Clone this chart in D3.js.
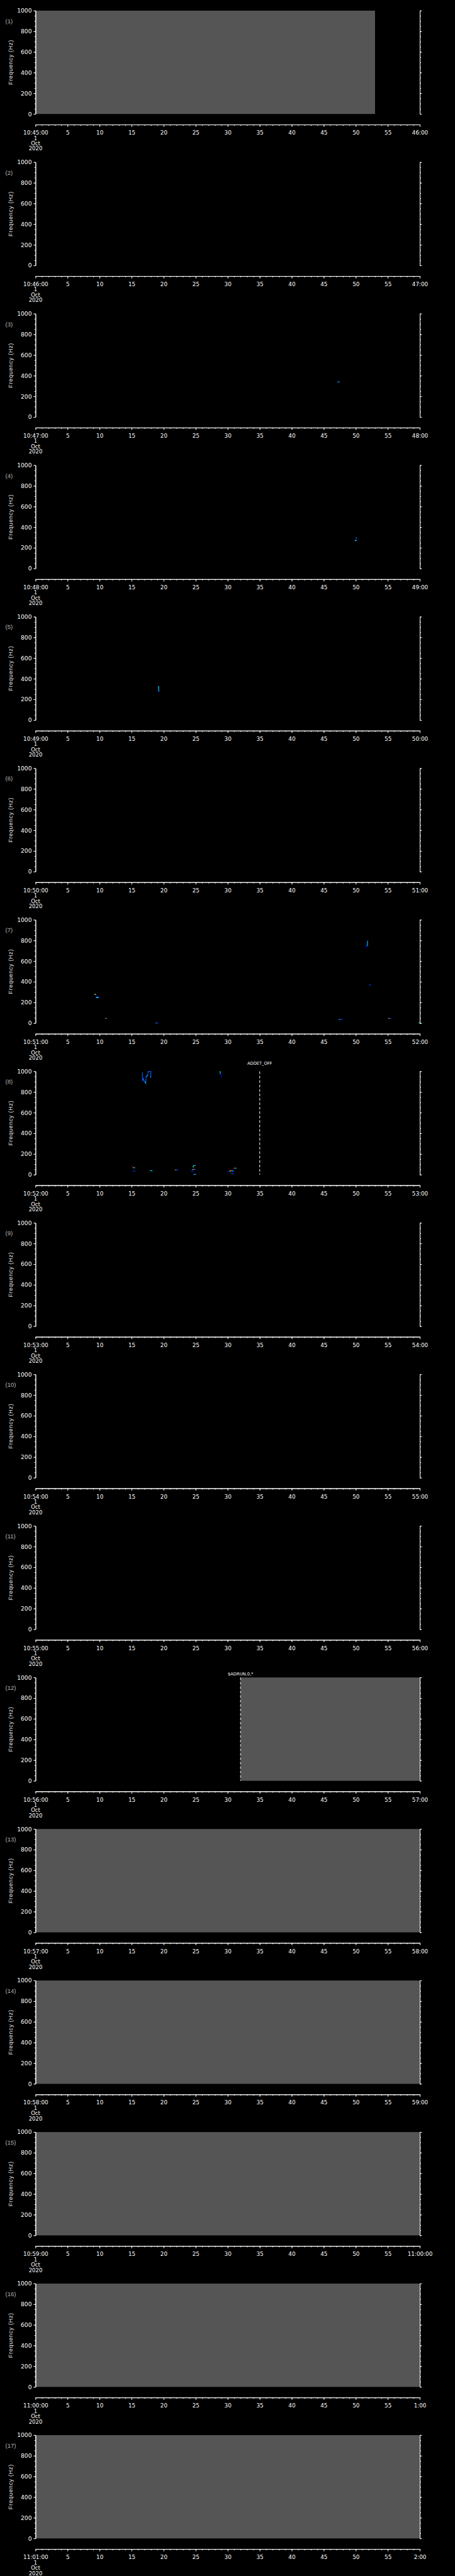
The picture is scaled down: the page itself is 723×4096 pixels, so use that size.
<!DOCTYPE html>
<html>
<head>
<meta charset="utf-8">
<script src="https://cdn.jsdelivr.net/npm/d3@7"></script>
<style>
  html, body { margin: 0; padding: 0; background: #000; }
  svg { display: block; }
</style>
</head>
<body>
<div id="chart"></div>
<script>
// one panel per minute, 1 Oct 2020
const panelStarts = ["10:45:00", "10:46:00", "10:47:00", "10:48:00", "10:49:00", "10:50:00",
  "10:51:00", "10:52:00", "10:53:00", "10:54:00", "10:55:00", "10:56:00", "10:57:00",
  "10:58:00", "10:59:00", "11:00:00", "11:01:00"];
const panelEnds = ["46:00", "47:00", "48:00", "49:00", "50:00", "51:00", "52:00", "53:00",
  "54:00", "55:00", "56:00", "57:00", "58:00", "59:00", "11:00:00", "1:00", "2:00"];
const dateLines = ["1", "Oct", "2020"];

// seconds tick values and frequency ticks
const secMajor = d3.range(0, 61, 5);
const secMinor = d3.range(0, 61, 1);
const freqMajor = [0, 200, 400, 600, 800, 1000];
const freqMinor = d3.range(0, 1001, 50);

// no-data (gray) spans: [panel, from s, to s]
const grayPanels = [1, 12, 13, 14, 15, 16, 17];
const grayFrom = [0, 32, 0, 0, 0, 0, 0];
const grayTo = [53, 60, 60, 60, 60, 60, 60];

// event markers
const eventPanels = [8, 12];
const eventSecs = [35, 32];
const eventLabels = ["ADDET_OFF", "$ADRUN,0,*"];

// spectral traces: panel, colour, [seconds, Hz] points
const tracePanels = [
  3, 3,
  4, 4, 4,
  5, 5,
  7, 7, 7, 7, 7, 7, 7, 7, 7, 7,
  7, 7, 7, 7, 7, 7, 7, 7, 7,
  8, 8, 8, 8, 8, 8, 8, 8, 8, 8,
  8, 8, 8, 8, 8, 8, 8, 8, 8, 8,
  8, 8, 8, 8, 8, 8, 8
];
const traceColors = [
  "#00e0ff", "#0050ff",
  "#0050ff", "#0050ff", "#60ffff",
  "#00e0ff", "#0030ff",
  "#b0ff40", "#0000ff", "#40ff90", "#00e0ff", "#0040ff", "#ffff00", "#0040ff", "#00e0ff", "#0040ff", "#00c0ff",
  "#0000ff", "#0040ff", "#0040ff", "#00e0ff", "#0040ff", "#ff8000", "#ffff00", "#0040ff", "#00e0ff",
  "#0060ff", "#00e0ff", "#00c0ff", "#0060ff", "#00e0ff", "#0000ff", "#ff0000", "#00e0ff", "#0040ff", "#00e0ff",
  "#ff9000", "#0040ff", "#40ff80", "#00c0ff", "#0000ff", "#ffc000", "#0040ff", "#0040ff", "#00c0ff", "#0040ff",
  "#ffff00", "#ff2000", "#00e0ff", "#0040ff", "#ff0000", "#00e0ff", "#0040ff"
];
const tracePoints = [
  [[47.2, 340], [47.35, 340]], [[47.35, 340], [47.5, 340]],
  [[50.06, 272], [50.06, 300], [50.13, 300]], [[50.0, 272], [50.06, 272]], [[49.9, 271], [50.0, 271]],
  [[19.15, 323], [19.22, 323], [19.22, 281]], [[19.22, 279], [19.4, 279]],
  [[9.22, 281], [9.38, 276]], [[9.46, 270], [9.46, 246]], [[9.5, 247], [9.72, 247]], [[9.65, 252], [9.8, 252]],
  [[9.8, 251], [9.95, 251]], [[10.95, 45], [11.05, 45]], [[11.05, 45], [11.15, 45]], [[18.8, 2], [18.9, 2]],
  [[18.9, 2], [19.1, 2]], [[51.82, 794], [51.82, 750], [51.7, 750]],
  [[51.68, 750], [51.6, 738], [51.55, 727]], [[51.8, 794], [51.9, 794]],
  [[52.1, 372], [52.2, 372], [52.25, 362]], [[47.4, 36], [47.5, 36]], [[47.5, 36], [47.9, 36]],
  [[55.1, 45], [55.2, 45]], [[55.2, 45], [55.26, 45]], [[55.26, 45], [55.5, 45]], [[59.85, 2], [60, 2]],
  [[16.67, 987], [16.72, 903], [16.81, 931], [17.0, 903], [17.11, 898], [17.2, 885], [17.25, 948],
    [17.39, 957], [17.53, 960], [17.57, 999], [17.99, 1000], [17.99, 940]],
  [[17.1, 895], [17.2, 886]], [[17.3, 952], [17.45, 958]], [[17.93, 955], [17.95, 940]],
  [[28.83, 1000], [28.83, 975]], [[28.9, 975], [29.1, 950]],
  [[15.1, 77], [15.25, 68]], [[15.3, 67], [15.5, 67]], [[15.2, 35], [15.5, 35]], [[17.9, 40], [18.2, 36]],
  [[21.8, 46], [21.95, 46]], [[21.95, 46], [22.2, 46]], [[24.62, 80], [24.62, 72]], [[24.62, 88], [24.95, 88]],
  [[24.5, 51], [24.5, 33]], [[24.55, 51], [24.8, 51]], [[24.8, 51], [25.0, 51]], [[24.35, 33], [24.5, 33]],
  [[24.7, 3], [25.0, 3]], [[30.0, 33], [30.4, 33]],
  [[30.35, 36], [30.5, 36]], [[30.45, 41], [30.65, 41]], [[30.7, 38], [30.9, 33]],
  [[30.85, 33], [31.0, 33]], [[30.95, 62], [31.1, 62]], [[31.1, 63], [31.3, 63]], [[30.6, 9], [30.9, 9]]
];

const W = 1024, H = 5802;
const nPanels = panelStarts.length;
const panelH = H / nPanels;
const left = 80, right = 945, plotH = 232.7, top0 = 24;
const ink = "#ffffff";

const svg = d3.select("#chart").append("svg")
  .attr("width", 723).attr("height", 4096)
  .attr("viewBox", `0 0 ${W} ${H}`)
  .style("background", "#000");

const x = d3.scaleLinear().domain([0, 60]).range([left, right]);

function styleAxis(g) {
  g.selectAll("path, line").attr("stroke", ink).attr("stroke-width", 1.4);
  g.selectAll("text").attr("fill", ink)
    .style("font-family", "'DejaVu Sans', sans-serif").style("font-size", "12.5px");
}

panelStarts.forEach((start, i) => {
  const n = i + 1;
  const T = top0 + i * panelH;
  const y = d3.scaleLinear().domain([0, 1000]).range([T + plotH, T]);
  const g = svg.append("g");

  // gray no-data fill
  grayPanels.forEach((p, k) => {
    if (p !== n) return;
    g.append("rect")
      .attr("x", x(grayFrom[k])).attr("y", y(1000))
      .attr("width", x(grayTo[k]) - x(grayFrom[k]))
      .attr("height", y(0) - y(1000))
      .attr("fill", "#555555");
  });

  // spectral traces
  const line = d3.line().x(d => x(d[0])).y(d => y(d[1]));
  tracePanels.forEach((p, k) => {
    if (p !== n || !tracePoints[k]) return;
    g.append("path").attr("d", line(tracePoints[k]))
      .attr("fill", "none").attr("stroke", traceColors[k] || "#0040ff")
      .attr("stroke-width", 1.6).attr("stroke-linecap", "square");
  });

  // events
  eventPanels.forEach((p, k) => {
    if (p !== n) return;
    g.append("line")
      .attr("x1", x(eventSecs[k])).attr("x2", x(eventSecs[k]))
      .attr("y1", y(1000)).attr("y2", y(0))
      .attr("stroke", ink).attr("stroke-width", 1.4)
      .attr("stroke-dasharray", "6,4");
    const lift = n === 8 ? 15 : 5;
    g.append("text")
      .attr("x", x(eventSecs[k])).attr("y", y(1000) - lift)
      .attr("text-anchor", "middle").attr("fill", ink)
      .style("font-family", "'DejaVu Sans', sans-serif").style("font-size", "9.5px")
      .text(eventLabels[k]);
  });

  // frequency axes, left and right
  g.append("g").attr("transform", `translate(${left},0)`)
    .call(d3.axisLeft(y).tickValues(freqMinor).tickSize(2.6).tickSizeOuter(0).tickFormat(""))
    .call(styleAxis);
  g.append("g").attr("transform", `translate(${left},0)`)
    .call(d3.axisLeft(y).tickValues(freqMajor).tickSize(4.5).tickSizeOuter(0).tickPadding(4)
      .tickFormat(d3.format("d")))
    .call(styleAxis)
    .selectAll("text").style("font-size", "13px");
  g.append("g").attr("transform", `translate(${right},0)`)
    .call(d3.axisRight(y).tickValues(freqMinor).tickSize(2.6).tickSizeOuter(0).tickFormat(""))
    .call(styleAxis);
  g.append("g").attr("transform", `translate(${right},0)`)
    .call(d3.axisRight(y).tickValues(freqMajor).tickSize(4.5).tickSizeOuter(0).tickFormat(""))
    .call(styleAxis);

  // time axis
  const ty = T + 256.7;
  g.append("g").attr("transform", `translate(0,${ty})`)
    .call(d3.axisBottom(x).tickValues(secMinor).tickSize(2.7).tickSizeOuter(0).tickFormat(""))
    .call(styleAxis);
  g.append("g").attr("transform", `translate(0,${ty})`)
    .call(d3.axisBottom(x).tickValues(secMajor).tickSize(5).tickSizeOuter(0)
      .tickFormat(d => d === 0 ? start : d === 60 ? panelEnds[i] : String(d)))
    .call(styleAxis)
    .selectAll("text").attr("y", 22.8).attr("dy", null);

  dateLines.forEach((s, k) => {
    g.append("text")
      .attr("x", left).attr("y", ty + 34.5 + k * 12)
      .attr("text-anchor", "middle").attr("fill", ink)
      .style("font-family", "'DejaVu Sans', sans-serif").style("font-size", "12px")
      .text(s);
  });

  // panel number and y title
  g.append("text")
    .attr("x", 12).attr("y", T + 28)
    .attr("fill", "#b4b4b4")
    .style("font-family", "'Liberation Sans', sans-serif").style("font-size", "13.5px")
    .text(`(${n})`);
  g.append("text")
    .attr("transform", `translate(28,${T + plotH / 2}) rotate(-90)`)
    .attr("text-anchor", "middle").attr("fill", "#e6e6e6")
    .style("font-family", "'Liberation Sans', sans-serif").style("font-size", "13px")
    .style("letter-spacing", "0.9px")
    .text("Frequency  (Hz)");
});
</script>
</body>
</html>
